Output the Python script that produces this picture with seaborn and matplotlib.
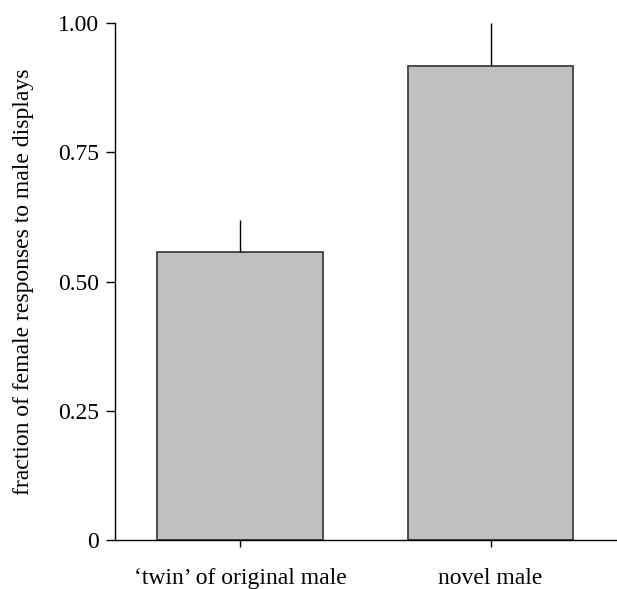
import matplotlib
matplotlib.use("Agg")
import matplotlib.pyplot as plt
import seaborn as sns
import pandas as pd

categories = ["\u2018twin\u2019 of original male", "novel male"]
values = [0.557, 0.917]
err_upper = [0.062, 0.083]
yticks = [0, 0.25, 0.50, 0.75, 1.00]
ytick_labels = ["0", "0.25", "0.50", "0.75", "1.00"]

sns.set_theme(style="ticks")
plt.rcParams["font.family"] = ["Liberation Serif", "DejaVu Serif"]
for k in ["text.color", "axes.labelcolor", "xtick.color", "ytick.color",
          "xtick.labelcolor", "ytick.labelcolor"]:
    plt.rcParams[k] = "black"

df = pd.DataFrame({"group": categories, "value": values})

fig = plt.figure(figsize=(6.17, 5.89), dpi=100)
ax = fig.add_axes([0.186, 0.083, 0.812, 0.878])

sns.barplot(data=df, x="group", y="value", color="#c0c0c0", saturation=1,
            edgecolor="#404040", linewidth=1.3, width=0.66, errorbar=None, ax=ax)

ax.errorbar(range(len(values)), values, yerr=[[0] * len(values), err_upper],
            fmt="none", ecolor="black", elinewidth=1.0, capsize=0, zorder=1)

ax.set_xlim(-0.5, 1.5)
ax.set_ylim(0, 1.0)
ax.set_yticks(yticks)
ax.set_yticklabels(ytick_labels)
ax.set_xlabel("")
ax.set_ylabel("fraction of female responses to male displays", fontsize=17,
              labelpad=17, color="black")
ax.tick_params(axis="both", labelsize=17, direction="out", width=1,
               color="black", labelcolor="black")
ax.tick_params(axis="y", length=6.5, pad=5)
ax.tick_params(axis="x", length=5, pad=15)
for s in ["top", "right"]:
    ax.spines[s].set_visible(False)
for s in ["left", "bottom"]:
    ax.spines[s].set_color("black")
    ax.spines[s].set_linewidth(1.0)

fig.savefig("out.png", dpi=100)
